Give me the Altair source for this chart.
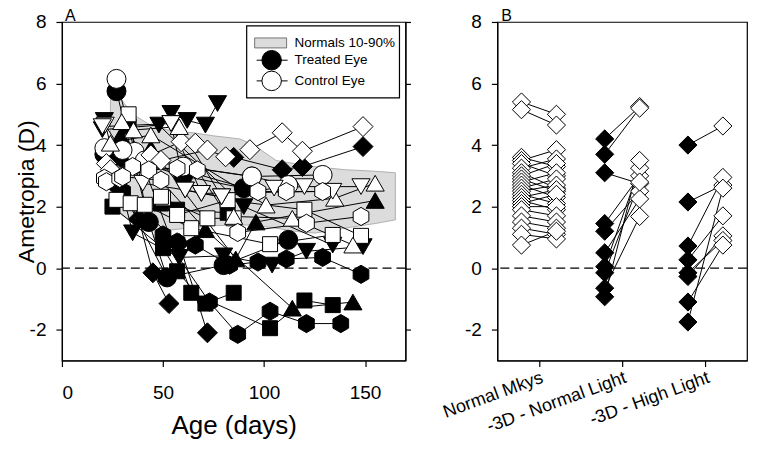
import altair as alt
import pandas as pd

FONT = "Liberation Sans"

# ---------------- Panel A data ----------------
band_day = [24, 28, 35, 45, 55, 65, 75, 88, 95, 106, 115, 125, 140, 155, 165]
band_hi = [5.5, 5.6, 5.0, 4.6, 4.45, 4.4, 4.3, 4.2, 4.0, 3.5, 3.4, 3.3, 3.2, 3.15, 3.1]
band_lo = [1.9, 1.8, 1.5, 1.25, 1.25, 1.32, 1.38, 1.4, 1.4, 1.3, 1.2, 1.14, 1.3, 1.45, 1.57]

# (marker, treated days, treated D, control days, control D)
monkeys = [
    ("circle", [27, 43, 52, 80, 112], [5.75, 1.5, -0.3, 0.1, 0.92],
               [27, 36, 41, 94, 112], [6.15, 3.78, 3.5, 2.98, 2.7]),
    ("circle", [21, 30, 60, 90], [3.7, 3.6, 3.0, 2.6],
               [21, 30, 60, 94, 129], [3.9, 3.84, 3.3, 2.98, 3.03]),
    ("square", [25, 50, 57, 71, 85], [2.0, 0.65, -0.1, -1.15, -0.8],
               [27, 34, 50, 72, 85], [2.22, 2.11, 2.27, 1.62, 1.62]),
    ("square", [33, 64, 103, 120, 134], [4.6, -0.8, -1.95, -1.05, -1.2],
               [33, 41, 64, 103, 134], [5.0, 2.06, 1.3, 0.78, 1.08]),
    ("square", [49, 57, 82], [2.1, 1.9, 1.8],
               [49, 57, 82, 120, 148], [2.32, 1.73, 2.21, 1.9, 1.05]),
    ("diamond", [85, 109, 119, 149], [3.6, 3.2, 3.3, 3.95],
                [93, 109, 119, 149], [3.85, 4.4, 3.8, 4.6]),
    ("diamond", [25, 38, 45, 53], [3.0, 1.6, -0.15, -1.15],
                [22, 44, 59, 66], [3.4, 3.68, 4.11, 4.06]),
    ("diamond", [28, 58, 72], [2.6, 0.8, -2.1],
                [24, 49, 72, 81], [3.2, 3.5, 3.84, 3.62]),
    ("triangle-up", [29, 71, 114, 144], [4.3, 1.25, -1.3, -1.1],
                    [29.6, 35.4, 58, 85, 114, 144], [4.76, 4.49, 4.6, 1.68, 1.62, 0.75]),
    ("triangle-up", [44, 86, 96, 155], [3.9, 0.3, 1.5, 2.2],
                    [24, 44, 101, 135, 155], [4.06, 4.33, 2.05, 2.27, 2.76]),
    ("triangle-down", [54, 62, 71, 77], [5.03, 4.8, 4.65, 5.35],
                      [54, 61, 69, 79], [4.7, 2.54, 2.43, 2.32]),
    ("triangle-down", [21, 35, 58, 80, 104, 121, 149], [4.8, 1.15, 0.35, 0.4, 0.1, 0.55, 0.7],
                      [21.4, 40, 61, 79, 105, 120, 148], [4.65, 2.76, 2.54, 2.32, 2.6, 2.65, 2.65]),
    ("triangle-down", [20, 48, 90, 134], [4.5, 4.65, 2.0, 0.75],
                      [20, 54, 69, 134], [4.6, 4.7, 2.43, 2.5]),
    ("hexagon", [50, 73, 87, 103, 121, 138], [1.08, -1.1, -2.15, -1.4, -1.8, -1.8],
                [21, 35, 67, 87, 121, 148], [2.92, 3.3, 3.19, 1.16, 1.46, 1.68]),
    ("hexagon", [57, 66, 83, 97, 111, 129, 148], [0.85, 0.75, 0.1, 0.2, 0.3, 0.35, -0.2],
                [22, 43, 57, 97, 111, 129], [2.81, 3.19, 3.24, 2.49, 2.49, 2.49]),
    ("hexagon", [30, 52], [2.5, -0.3],
                [28.6, 30, 49], [2.92, 2.97, 2.86]),
]

legend_labels = ["Normals 10-90%", "Treated Eye", "Control Eye"]

# ---------------- Panel B data ----------------
groups = ["Normal Mkys", "-3D - Normal Light", "-3D - High Light"]
nm_left = [5.4, 5.15, 3.6, 3.5, 3.4, 3.25, 3.1, 3.0, 2.9, 2.8, 2.7, 2.6, 2.5, 2.4, 2.3, 2.2, 2.1, 2.0, 1.9, 1.7, 1.5, 1.3, 1.1, 0.75]
nm_right = [5.0, 4.65, 3.3, 3.85, 3.0, 3.55, 2.6, 3.4, 2.5, 3.1, 2.3, 2.9, 2.7, 2.1, 2.55, 1.9, 2.4, 2.0, 1.7, 1.5, 1.3, 1.1, 0.95, 1.2]
nl_left = [4.2, 3.7, 3.1, 1.45, 1.2, 0.5, 0.05, -0.15, -0.65, -0.93]
nl_right = [5.25, 5.2, 2.75, 3.0, 2.5, 2.25, 3.25, 2.8, 1.68, 3.5]
hl_left = [4.0, 2.15, 0.72, 0.27, -0.27, -0.15, -1.1, -1.75]
hl_right = [4.62, 2.7, 2.95, 1.7, 1.05, 0.9, 0.75, 2.6]

HEX = "M0,-1L0.866,-0.5L0.866,0.5L0,1L-0.866,0.5L-0.866,-0.5Z"
shape_dom = ["circle", "square", "diamond", "triangle-up", "triangle-down", "hexagon"]
shape_rng = ["circle", "square", "diamond", "triangle-up", "triangle-down", HEX]

# ---------- build tables ----------
rows = []
for i, (shp, td, tv, cd, cv) in enumerate(monkeys):
    for d, v in zip(td, tv):
        rows.append({"series": f"m{i}T", "shape": shp, "eye": "Treated", "day": d, "D": v})
    for d, v in zip(cd, cv):
        rows.append({"series": f"m{i}C", "shape": shp, "eye": "Control", "day": d, "D": v})
dfA = pd.DataFrame(rows)
band = pd.DataFrame({"day": band_day, "hi": band_hi, "lo": band_lo})

rowsB = []
for g, (lv, rv, treated) in enumerate([(nm_left, nm_right, False), (nl_left, nl_right, True), (hl_left, hl_right, True)]):
    for p, (a, b) in enumerate(zip(lv, rv)):
        rowsB.append({"pair": f"{g}-{p}", "g": g, "side": 0, "D": a, "eye": "Treated" if treated else "Control"})
        rowsB.append({"pair": f"{g}-{p}", "g": g, "side": 1, "D": b, "eye": "Control"})
dfB = pd.DataFrame(rowsB)

# ---------- scales/axes ----------
yscale = alt.Scale(domain=[-3, 8], nice=False, zero=False)
xscaleA = alt.Scale(domain=[0, 170], nice=False, zero=False)
xscaleB = alt.Scale(domain=[0, 3], nice=False, zero=False)
yvals = [-2, 0, 2, 4, 6, 8]
lab = "'' + datum.value"

xaxisA = alt.Axis(values=[0, 50, 100, 150], title="Age (days)", titleFontSize=26,
                  labelFontSize=19, labelPadding=17, titlePadding=10, tickSize=6, labelExpr=lab)
yaxis_left = alt.Axis(values=yvals, title="Ametropia (D)", titleFontSize=23, labelFontSize=19,
                      labelPadding=10, titlePadding=-9, tickSize=6, labelExpr=lab)
yaxis_leftB = alt.Axis(values=yvals, title=None, labelFontSize=19,
                       labelPadding=10, tickSize=6, labelExpr=lab)
yaxis_right = alt.Axis(values=yvals, title=None, labels=False, tickSize=5, orient="right")

fill_enc = alt.Fill("eye:N", scale=alt.Scale(domain=["Treated", "Control"], range=["black", "white"]), legend=None)
shape_enc = alt.Shape("shape:N", scale=alt.Scale(domain=shape_dom, range=shape_rng), legend=None)
size_expr = "datum.shape == 'diamond' ? 400 : datum.shape == 'square' ? 225 : datum.shape == 'circle' ? 361 : 330"

# ---------- Panel A ----------
band_area = alt.Chart(band).mark_area(fill="#dcdcdc", stroke="#a0a0a0", strokeWidth=0.8).encode(
    x=alt.X("day:Q", scale=xscaleA, axis=xaxisA),
    y=alt.Y("hi:Q", scale=yscale, axis=yaxis_left),
    y2="lo:Q",
)
zero_rule = alt.Chart(pd.DataFrame({"z": [0]})).mark_rule(color="black", strokeDash=[9, 5], strokeWidth=1.3).encode(
    y=alt.Y("z:Q", scale=yscale, axis=yaxis_right)
)
linesA = alt.Chart(dfA).mark_line(color="black", strokeWidth=1).encode(
    x=alt.X("day:Q", scale=xscaleA, axis=xaxisA),
    y=alt.Y("D:Q", scale=yscale, axis=None),
    detail="series:N",
    order="day:Q",
)
def pts(eye):
    return alt.Chart(dfA).transform_filter(f"datum.eye == '{eye}'").transform_calculate(
        sz=size_expr).mark_point(filled=True, stroke="black", strokeWidth=1, opacity=1).encode(
        x=alt.X("day:Q", scale=xscaleA, axis=xaxisA),
        y=alt.Y("D:Q", scale=yscale, axis=None),
        shape=shape_enc, fill=fill_enc,
        size=alt.Size("sz:Q", scale=None, legend=None),
    )

one = pd.DataFrame({"a": [0]})
leg_box = alt.Chart(one).mark_rect(fill="white", stroke="black", strokeWidth=1.2).encode(
    x=alt.value(185), x2=alt.value(338), y=alt.value(4), y2=alt.value(76))
leg_swatch = alt.Chart(one).mark_rect(fill="#dcdcdc", stroke="#555", strokeWidth=0.8).encode(
    x=alt.value(193), x2=alt.value(225), y=alt.value(16), y2=alt.value(26))
leg_lines = alt.Chart(pd.DataFrame({"yy": [38.3, 59]})).mark_rule(color="black", strokeWidth=1).encode(
    x=alt.value(195), x2=alt.value(226), y=alt.Y("yy:Q", scale=None, axis=None))
leg_pts = alt.Chart(pd.DataFrame({"yy": [38.3, 59], "eye": ["Treated", "Control"]})).mark_point(
    shape="circle", filled=True, stroke="black", strokeWidth=1, size=380, opacity=1).encode(
    x=alt.value(210), y=alt.Y("yy:Q", scale=None, axis=None), fill=fill_enc)
leg_text = alt.Chart(pd.DataFrame({"t": legend_labels, "yy": [21, 38.3, 59]})).mark_text(
    align="left", baseline="middle", font=FONT, fontSize=13.5, color="black").encode(
    x=alt.value(233), y=alt.Y("yy:Q", scale=None, axis=None), text="t:N")
letterA = alt.Chart(one).mark_text(text="A", align="left", baseline="top", font=FONT, fontSize=16,
                                   color="black").encode(x=alt.value(3), y=alt.value(-13.5))

panelA = alt.layer(band_area, zero_rule, linesA, pts("Treated"), pts("Control"),
                   leg_box, leg_swatch, leg_lines, leg_pts, leg_text, letterA
                   ).resolve_axis(y="independent").properties(width=344, height=339)

# ---------- Panel B ----------
lab_expr = " : ".join([f"datum.value < {i + 1} ? '{g}'" for i, g in enumerate(groups[:-1])]) + f" : '{groups[-1]}'"
xaxisB = alt.Axis(values=[0.5, 1.5, 2.5], labelExpr=lab_expr, labelAngle=340, labelAlign="right",
                  labelBaseline="top", labelFontSize=18, labelPadding=2, tickSize=6, title=None,
                  labelOverlap=False)
baseB = alt.Chart(dfB).transform_calculate(xpos="datum.g + 0.5 + (datum.side == 0 ? -0.21 : 0.21)")
zeroB = alt.Chart(pd.DataFrame({"z": [0]})).mark_rule(color="black", strokeDash=[9, 5], strokeWidth=1.3).encode(
    y=alt.Y("z:Q", scale=yscale, axis=yaxis_leftB))
linesB = baseB.mark_line(color="black", strokeWidth=1).encode(
    x=alt.X("xpos:Q", scale=xscaleB, axis=xaxisB),
    y=alt.Y("D:Q", scale=yscale, axis=yaxis_leftB),
    detail="pair:N", order="side:Q")
ptsB = baseB.mark_point(shape="diamond", filled=True, stroke="black", strokeWidth=1, size=330, opacity=1).encode(
    x=alt.X("xpos:Q", scale=xscaleB, axis=xaxisB),
    y=alt.Y("D:Q", scale=yscale, axis=yaxis_leftB),
    fill=fill_enc)
letterB = alt.Chart(one).mark_text(text="B", align="left", baseline="top", font=FONT, fontSize=16,
                                   color="black").encode(x=alt.value(4), y=alt.value(-13.5))
panelB = alt.layer(zeroB, linesB, ptsB, letterB).properties(width=250, height=339)

chart = alt.hconcat(panelA, panelB, spacing=92, bounds="flush").properties(
    padding={"left": 6, "top": -1.3, "right": 0, "bottom": 0}
).configure_view(stroke="black", strokeWidth=1.2).configure_axis(
    labelFont=FONT, titleFont=FONT, labelColor="black", titleColor="black", tickColor="black",
    domainColor="black", grid=False, titleFontWeight="normal", domainWidth=1.2, tickWidth=1.2
)

chart.save("out.html", embed_options={"renderer": "svg", "actions": False})
